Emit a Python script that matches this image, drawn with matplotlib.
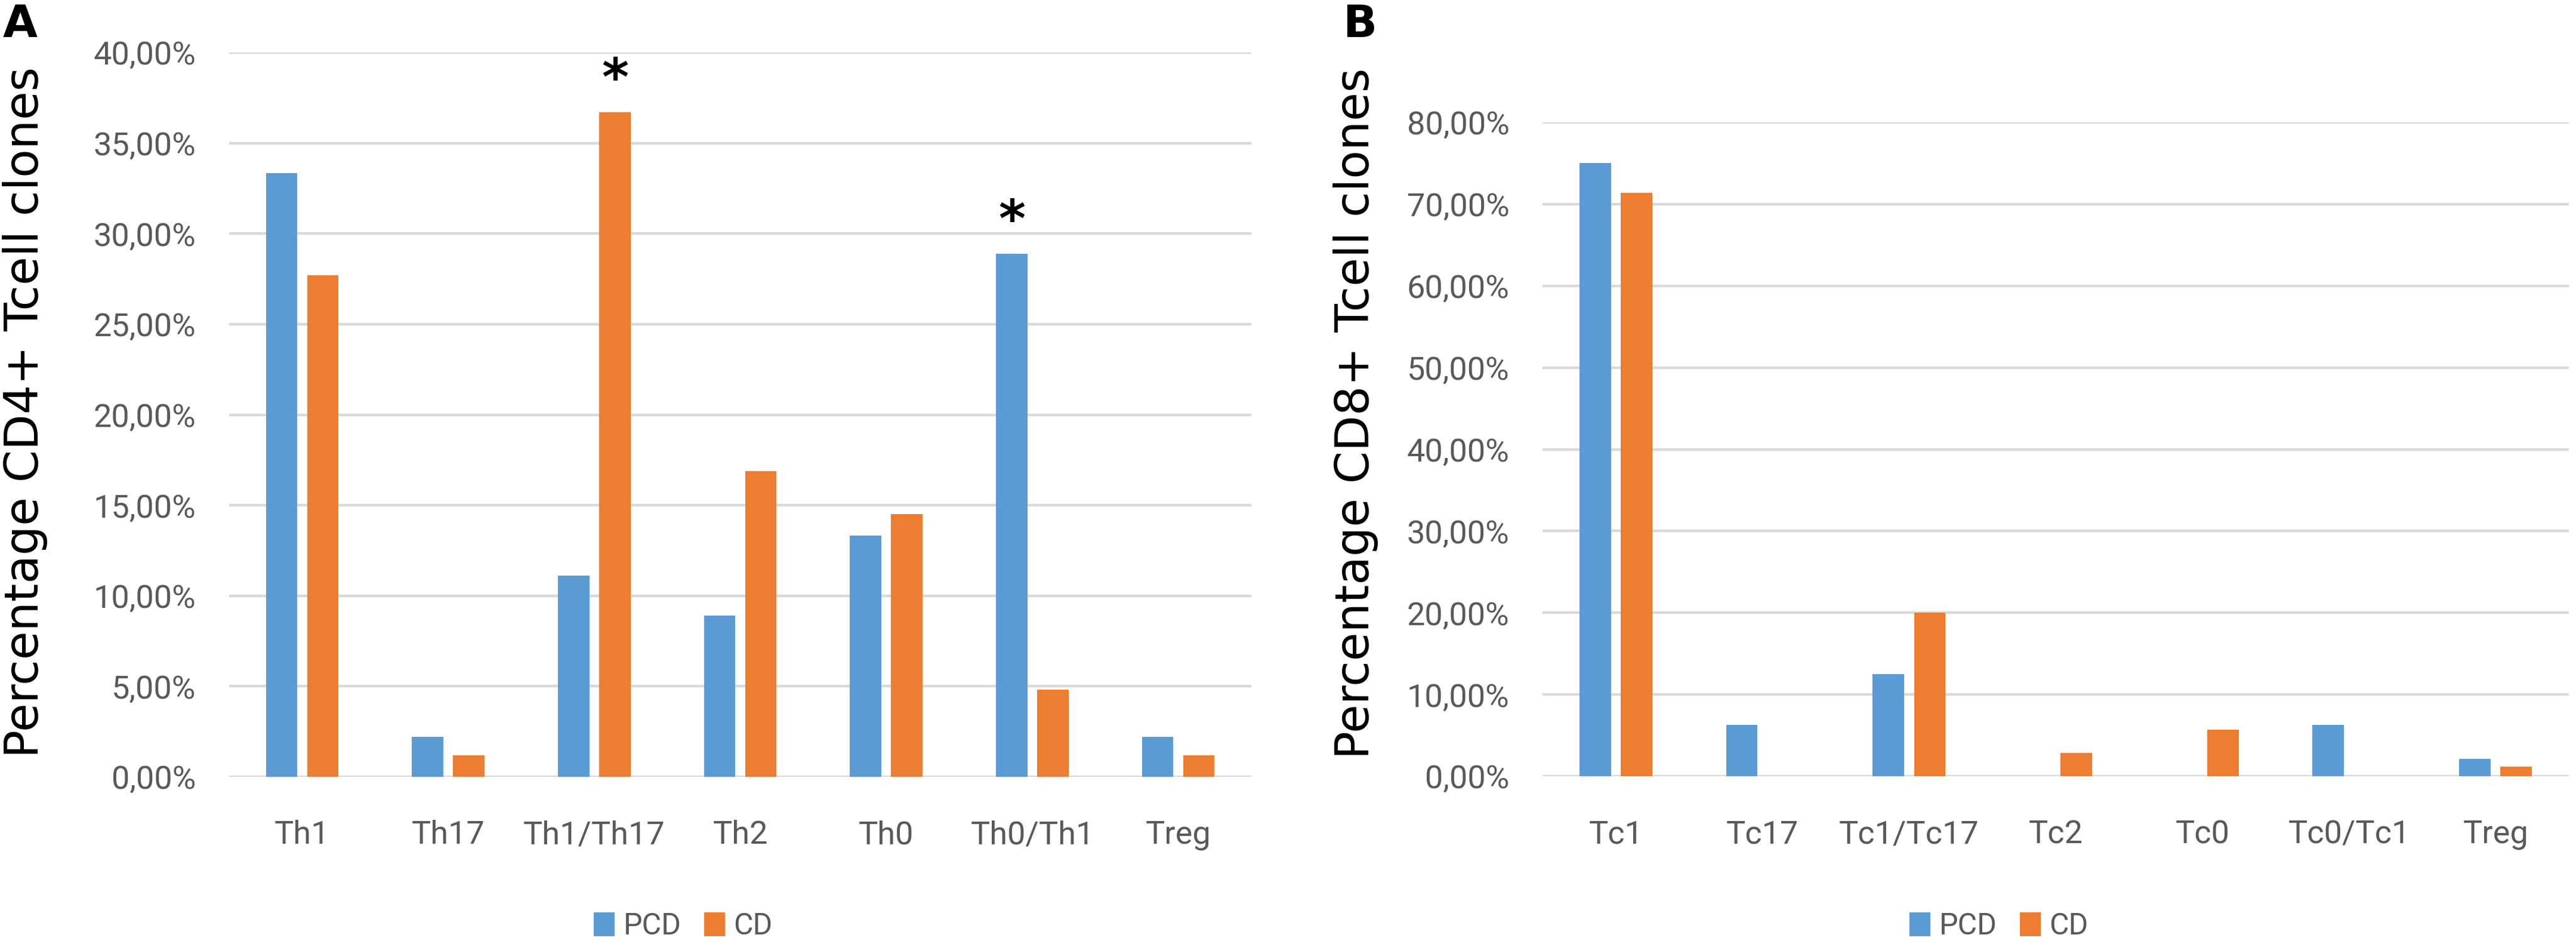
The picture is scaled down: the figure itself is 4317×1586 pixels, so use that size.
import numpy as np
import matplotlib.pyplot as plt
from matplotlib.ticker import FuncFormatter, MultipleLocator

# Données (% de clones)
cd4_types = ["Th1", "Th17", "Th1/Th17", "Th2", "Th0", "Th0/Th1", "Treg"]
cd4_pcd = [33.33, 2.22, 11.11, 8.89, 13.33, 28.89, 2.22]
cd4_cd = [27.7, 1.2, 36.7, 16.9, 14.5, 4.8, 1.2]
cd4_stars = [("CD", 2), ("PCD", 5)]   # différences significatives

cd8_types = ["Tc1", "Tc17", "Tc1/Tc17", "Tc2", "Tc0", "Tc0/Tc1", "Treg"]
cd8_pcd = [75.0, 6.25, 12.5, 0.0, 0.0, 6.25, 2.1]
cd8_cd = [71.4, 0.0, 20.0, 2.86, 5.71, 0.0, 1.2]

BLUE = "#5B9BD5"
ORANGE = "#ED7D31"
GREY = "#595959"
GRID = "#D9D9D9"
NARROW = ["Roboto", "DejaVu Sans"]

W, H = 4317, 1586
fig = plt.figure(figsize=(W / 100, H / 100), dpi=100)
fig.patch.set_facecolor("white")

bw = 0.215
off = 0.141


def pct(v, pos):
    return "{:.2f}%".format(v).replace(".", ",")


def panel(rect, cats, pcd, cd, ymax, step):
    ax = fig.add_axes(rect)
    x = np.arange(len(cats))
    ax.bar(x - off, pcd, bw, color=BLUE, label="PCD", zorder=3)
    ax.bar(x + off, cd, bw, color=ORANGE, label="CD", zorder=3)
    ax.set_xlim(-0.5, len(cats) - 0.5)
    ax.set_ylim(0, ymax)
    ax.yaxis.set_major_locator(MultipleLocator(step))
    ax.yaxis.set_major_formatter(FuncFormatter(pct))
    ax.grid(axis="y", color=GRID, linewidth=3.2, zorder=0)
    ax.set_axisbelow(True)
    for s in ax.spines.values():
        s.set_visible(False)
    ax.set_xticks(x)
    ax.set_xticklabels(cats)
    ax.tick_params(axis="both", length=0, colors=GREY, labelsize=39)
    ax.tick_params(axis="y", pad=40)
    ax.tick_params(axis="x", pad=52)
    for lab in ax.get_xticklabels() + ax.get_yticklabels():
        lab.set_family(NARROW)
    return ax, x


axA, xA = panel([384 / W, 1 - 1301 / H, 1713 / W, 1213 / H],
                cd4_types, cd4_pcd, cd4_cd, 40, 5)
axB, xB = panel([2585 / W, 1 - 1300 / H, 1720 / W, 1095 / H],
                cd8_types, cd8_pcd, cd8_cd, 80, 10)

# astérisques
for serie, i in cd4_stars:
    if serie == "CD":
        xs, v = xA[i] + off, cd4_cd[i]
    else:
        xs, v = xA[i] - off, cd4_pcd[i]
    axA.annotate("*", xy=(xs, v + 2.5), xytext=(0, -34), textcoords="offset points",
                 ha="center", va="baseline", fontsize=62, fontweight="bold", color="black")

# titres des axes
fig.text(42 / W, 1 - 690 / H, "Percentage CD4+ Tcell clones", rotation=90,
         ha="center", va="center", fontsize=56, color="black")
fig.text(2272 / W, 1 - 692 / H, "Percentage CD8+ Tcell clones", rotation=90,
         ha="center", va="center", fontsize=56, color="black")

# lettres des panneaux
fig.text(5 / W, 1 - 5 / H, "A", ha="left", va="top", fontsize=54, fontweight="bold")
fig.text(2250 / W, 1 - 5 / H, "B", ha="left", va="top", fontsize=54, fontweight="bold")

# légendes
for ax, cx in [(axA, 1145 / W), (axB, 3350 / W)]:
    h, l = ax.get_legend_handles_labels()
    fig.legend(h, l, loc="center", bbox_to_anchor=(cx, 1 - 1551 / H), ncol=2,
               frameon=False, handlelength=0.7, handleheight=0.85,
               handletextpad=0.3, columnspacing=0.75, labelcolor=GREY,
               prop={"family": NARROW, "size": 36})

fig.savefig("out.png", dpi=100, facecolor="white")
